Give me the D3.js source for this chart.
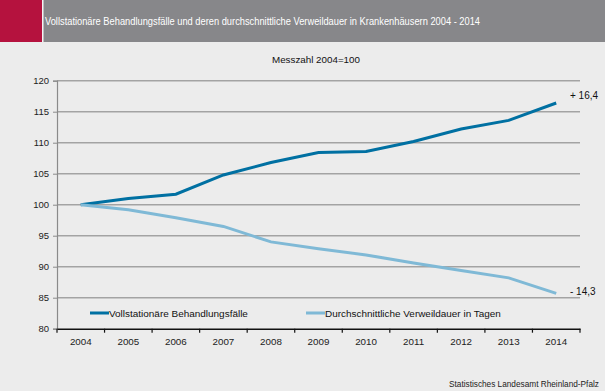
<!DOCTYPE html>
<html><head><meta charset="utf-8">
<script src="https://cdn.jsdelivr.net/npm/d3@7"></script>
<style>body{margin:0;background:#ececec;}svg{display:block;font-family:"Liberation Sans",Arial,sans-serif;}</style>
</head><body>
<script>
const years = ["2004","2005","2006","2007","2008","2009","2010","2011","2012","2013","2014"];
const faelle = [100,101.0,101.7,104.8,106.8,108.4,108.6,110.2,112.2,113.6,116.4];
const verweildauer = [100,99.2,97.9,96.5,94.0,92.9,91.9,90.6,89.4,88.2,85.7];
const yTicks = [80,85,90,95,100,105,110,115,120];
const seriesNames = ["Vollstationäre Behandlungsfälle","Durchschnittliche Verweildauer in Tagen"];
const endLabels = ["+ 16,4","- 14,3"];
const colors = ["#0070a2","#7fb9d6"];

const W=605,H=391;
const svg=d3.select("body").append("svg").attr("width",W).attr("height",H);
svg.append("rect").attr("width",W).attr("height",H).attr("fill","#ececec");

function fit(sel,w){ // scale font so the text has width w
  sel.each(function(){
    const fs=parseFloat(this.getAttribute("font-size"));
    const cur=this.getComputedTextLength();
    if(cur>0) this.setAttribute("font-size",(fs*w/cur).toFixed(2));
  });
  return sel;
}

// header
svg.append("rect").attr("x",0).attr("y",0).attr("width",W).attr("height",42).attr("fill","#87878a");
svg.append("rect").attr("x",0).attr("y",0).attr("width",42).attr("height",42).attr("fill","#b5123e");
svg.append("rect").attr("x",42).attr("y",0).attr("width",1.5).attr("height",42).attr("fill","#f4f4f4");
svg.append("text").attr("x",45).attr("y",25).attr("fill","#ffffff").attr("font-size",10.8)
  .attr("textLength",435).attr("lengthAdjust","spacingAndGlyphs")
  .text("Vollstationäre Behandlungsfälle und deren durchschnittliche Verweildauer in Krankenhäusern 2004 - 2014");
fit(svg.append("text").attr("x",272).attr("y",63).attr("font-size",10.5).attr("fill","#111")
  .text("Messzahl 2004=100"),88);

const x=d3.scaleBand().domain(years).range([57,580]);
const y=d3.scaleLinear().domain([80,120]).range([328.7,80.7]);

// gridlines
svg.append("g").selectAll("line").data(yTicks.filter(d=>d>80)).join("line")
  .attr("x1",57).attr("x2",580).attr("y1",d=>y(d)).attr("y2",d=>y(d))
  .attr("stroke","#a3a3a3").attr("stroke-width",1.6);

// y axis
const ya=svg.append("g").attr("transform","translate(57,0)")
  .call(d3.axisLeft(y).tickValues(yTicks).tickSize(4).tickPadding(4));
ya.select(".domain").attr("stroke","#8a8a8a").attr("stroke-width",1.2);
ya.selectAll(".tick line").attr("stroke","#8a8a8a");
ya.selectAll("text").attr("font-size",9.5).attr("fill","#222").attr("font-family","'Liberation Sans', Arial, sans-serif");

// x axis
const xa=svg.append("g").attr("transform","translate(0,"+y(80)+")")
  .call(d3.axisBottom(x).tickSize(0).tickPadding(9));
xa.select(".domain").attr("stroke","#111").attr("stroke-width",1.4);
xa.selectAll("text").attr("font-size",9.8).attr("fill","#222").attr("font-family","'Liberation Sans', Arial, sans-serif");
svg.append("g").selectAll("line").data(years.map((d,i)=>i).concat([years.length])).join("line")
  .attr("x1",i=>57+x.step()*i).attr("x2",i=>57+x.step()*i)
  .attr("y1",y(80)).attr("y2",y(80)+4).attr("stroke","#111").attr("stroke-width",1.2);

// lines
const line=d3.line().x((d,i)=>x(years[i])+x.bandwidth()/2).y(d=>y(d));
[faelle,verweildauer].forEach((s,k)=>{
  svg.append("path").datum(s).attr("d",line).attr("fill","none")
    .attr("stroke",colors[k]).attr("stroke-width",3);
  svg.append("text").attr("x",570).attr("y",y(s[s.length-1])-(k==0?4:-2)).attr("font-size",10).attr("fill","#111")
    .text(endLabels[k]);
});

// legend
const lg=[{x:90,t:seriesNames[0],c:colors[0],w:139},{x:306,t:seriesNames[1],c:colors[1],w:176}];
lg.forEach(l=>{
  svg.append("line").attr("x1",l.x).attr("x2",l.x+19).attr("y1",313).attr("y2",313).attr("stroke",l.c).attr("stroke-width",3);
  fit(svg.append("text").attr("x",l.x+19).attr("y",317).attr("font-size",10).attr("fill","#111").text(l.t),l.w);
});

fit(svg.append("text").attr("x",449).attr("y",387).attr("font-size",9).attr("fill","#222")
  .text("Statistisches Landesamt Rheinland-Pfalz"),150);
</script>
</body></html>
